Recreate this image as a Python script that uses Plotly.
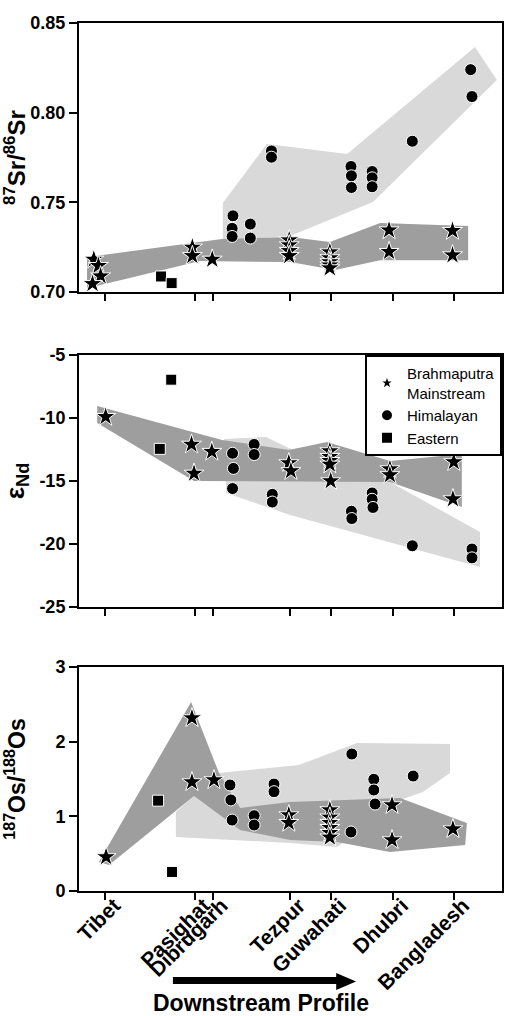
import plotly.graph_objects as go

# ---------------- data ----------------
site_labels = ["Tibet", "Pasighat", "Dibrugarh", "Tezpur", "Guwahati", "Dhubri", "Bangladesh"]
site_pos = [6.2, 27.4, 31.6, 49.9, 59.6, 74.3, 88.7]

# 87Sr/86Sr
sr_brahma_x = [3.5, 4.6, 5.1, 3.2, 26.8, 26.8, 31.5, 49.7, 49.7, 49.7, 49.7,
               59.3, 59.3, 59.3, 59.3, 59.3, 73.3, 73.3, 88.3, 88.3]
sr_brahma_y = [0.7182, 0.7147, 0.7089, 0.7046, 0.7249, 0.7202, 0.7182, 0.7290, 0.7262, 0.7230, 0.7202,
               0.7223, 0.7190, 0.7168, 0.7150, 0.7134, 0.7345, 0.7225, 0.7342, 0.7206]
sr_himal_x = [36.4, 36.2, 36.2, 40.5, 40.5, 45.5, 45.5, 64.3, 64.4, 64.4, 69.3, 69.3, 69.3, 78.8, 92.6, 92.9]
sr_himal_y = [0.7425, 0.7355, 0.7310, 0.7379, 0.7301, 0.7787, 0.7752, 0.7700, 0.7648, 0.7583,
              0.7672, 0.7637, 0.7587, 0.7841, 0.8240, 0.8090]
sr_east_x = [19.4, 21.9]
sr_east_y = [0.7087, 0.7050]
sr_dark_x = [1.9, 26.2, 33.8, 49.9, 59.3, 71.2, 92.0, 92.0, 71.2, 60.5, 49.9, 28.6, 1.9]
sr_dark_y = [0.7195, 0.7273, 0.7296, 0.7307, 0.7279, 0.7385, 0.7368, 0.7178, 0.7178, 0.7123, 0.7167, 0.7173, 0.7022]
sr_light_x = [34.0, 34.0, 44.4, 63.4, 93.6, 98.8, 69.5, 59.3, 49.9]
sr_light_y = [0.7290, 0.7496, 0.7825, 0.7770, 0.8366, 0.8182, 0.7502, 0.7402, 0.7312]

# epsilon Nd
nd_brahma_x = [6.3, 26.6, 27.2, 31.4, 49.6, 50.1, 59.3, 59.3, 59.3, 59.3, 59.5, 73.5, 73.5, 88.6, 88.4]
nd_brahma_y = [-9.9, -12.1, -14.4, -12.67, -13.57, -14.2, -12.62, -13.07, -13.39, -13.68, -15.0,
               -14.05, -14.52, -13.49, -16.43]
nd_himal_x = [36.3, 36.5, 36.3, 41.4, 41.4, 45.7, 45.7, 64.4, 64.5, 69.3, 69.3, 69.5, 78.8, 92.9, 92.9]
nd_himal_y = [-12.8, -14.0, -15.6, -12.1, -12.9, -16.06, -16.67, -17.4, -17.98, -15.95, -16.45, -17.1,
              -20.14, -20.4, -21.1]
nd_east_x = [19.1, 21.8]
nd_east_y = [-12.45, -6.96]
nd_dark_x = [4.3, 33.8, 49.6, 58.6, 73.5, 90.5, 90.5, 73.5, 27.2, 4.3]
nd_dark_y = [-9.05, -11.75, -12.54, -11.9, -13.41, -12.86, -17.06, -15.08, -15.0, -10.4]
nd_light_x = [34.3, 44.2, 49.6, 73.5, 94.8, 94.8, 49.9, 34.8]
nd_light_y = [-11.67, -11.51, -12.38, -15.08, -19.05, -21.83, -17.7, -15.95]

# 187Os/188Os
os_brahma_x = [6.4, 26.7, 26.7, 31.9, 49.6, 49.6, 59.3, 59.3, 59.3, 59.3, 59.3, 59.3, 74.0, 74.0, 88.4]
os_brahma_y = [0.456, 2.317, 1.46, 1.487, 1.018, 0.915, 1.085, 0.987, 0.915, 0.848, 0.781, 0.719,
               1.152, 0.683, 0.83]
os_himal_x = [35.7, 35.9, 36.2, 41.4, 41.4, 46.1, 46.1, 64.5, 64.3, 69.7, 69.7, 70.0, 79.0]
os_himal_y = [1.42, 1.22, 0.95, 1.009, 0.884, 1.433, 1.33, 1.835, 0.79, 1.496, 1.353, 1.165, 1.54]
os_east_x = [18.7, 22.0]
os_east_y = [1.21, 0.255]
os_dark_x = [4.7, 26.5, 33.1, 38.1, 49.9, 75.9, 91.7, 91.3, 73.5, 61.0, 49.9, 38.1, 27.2, 7.1]
os_dark_y = [0.389, 2.531, 1.58, 1.112, 1.192, 1.246, 0.911, 0.616, 0.522, 0.656, 0.683, 0.817, 1.272, 0.348]
os_light_x = [22.9, 27.2, 33.1, 52.0, 65.7, 87.7, 87.7, 81.3, 75.9, 61.0, 49.9, 22.9]
os_light_y = [1.058, 1.272, 1.58, 1.688, 1.982, 1.969, 1.58, 1.326, 1.219, 0.589, 0.643, 0.723]

# ---------------- styling ----------------
FONT = "Liberation Sans, Arial, sans-serif"
DARK = "#9e9e9e"
LIGHT = "#d9d9d9"

fig = go.Figure()

panels = [
    ("x", "y", sr_light_x, sr_light_y, sr_dark_x, sr_dark_y, sr_east_x, sr_east_y,
     sr_himal_x, sr_himal_y, sr_brahma_x, sr_brahma_y, False),
    ("x2", "y2", nd_light_x, nd_light_y, nd_dark_x, nd_dark_y, nd_east_x, nd_east_y,
     nd_himal_x, nd_himal_y, nd_brahma_x, nd_brahma_y, True),
    ("x3", "y3", os_light_x, os_light_y, os_dark_x, os_dark_y, os_east_x, os_east_y,
     os_himal_x, os_himal_y, os_brahma_x, os_brahma_y, False),
]

for (xa, ya, lx, ly, dx, dy, ex, ey, hx, hy, bx, by, leg) in panels:
    fig.add_trace(go.Scatter(x=lx, y=ly, xaxis=xa, yaxis=ya, mode="lines", fill="toself",
                             fillcolor=LIGHT, line=dict(width=0), showlegend=False, hoverinfo="skip"))
    fig.add_trace(go.Scatter(x=dx, y=dy, xaxis=xa, yaxis=ya, mode="lines", fill="toself",
                             fillcolor=DARK, line=dict(width=0), showlegend=False, hoverinfo="skip"))
    fig.add_trace(go.Scatter(x=ex, y=ey, xaxis=xa, yaxis=ya, mode="markers", name="Eastern",
                             legendrank=3, showlegend=leg,
                             marker=dict(symbol="square", size=11, color="black",
                                         line=dict(color="white", width=1))))
    fig.add_trace(go.Scatter(x=hx, y=hy, xaxis=xa, yaxis=ya, mode="markers", name="Himalayan",
                             legendrank=2, showlegend=leg,
                             marker=dict(symbol="circle", size=12, color="black",
                                         line=dict(color="white", width=1))))
    fig.add_trace(go.Scatter(x=bx, y=by, xaxis=xa, yaxis=ya, mode="markers",
                             name="Brahmaputra<br>Mainstream", legendrank=1, showlegend=leg,
                             marker=dict(symbol="star", size=15, color="black",
                                         line=dict(color="white", width=1))))

base_x = dict(range=[0, 100], tickmode="array", tickvals=site_pos, showgrid=False, zeroline=False,
              showline=True, mirror=True, linewidth=2, linecolor="black", automargin=False,
              ticks="outside", ticklen=7, tickwidth=2, tickcolor="black")
base_y = dict(showgrid=False, zeroline=False, showline=True, mirror=True, linewidth=2,
              linecolor="black", ticks="outside", ticklen=8, tickwidth=2, tickcolor="black",
              automargin=False,
              tickfont=dict(size=18, family=FONT, color="black", weight="bold"))

tick_in_x = dict(range=[0, 100], tickmode="array", tickvals=site_pos, showgrid=False,
                 zeroline=False, showline=False, ticks="inside", ticklen=6, tickwidth=2,
                 tickcolor="black", showticklabels=False, automargin=False)

dom = {"y": [0.690, 1.0], "y2": [0.3272, 0.6175], "y3": [0.0, 0.258]}
yr = {"y": [0.70, 0.85], "y2": [-25, -5], "y3": [0, 3]}
ytv = {"y": [0.70, 0.75, 0.80, 0.85], "y2": [-25, -20, -15, -10, -5], "y3": [0, 1, 2, 3]}
ytt = {"y": ["0.70", "0.75", "0.80", "0.85"], "y2": ["-25", "-20", "-15", "-10", "-5"],
       "y3": ["0", "1", "2", "3"]}
titles = {"y": ("<sup>87</sup>Sr/<sup>86</sup>Sr", 24, 1),
          "y2": ("ε<sub>Nd</sub>", 26, 8),
          "y3": ("<sup>187</sup>Os/<sup>188</sup>Os", 23, 24)}

layout_axes = {}
for i, ya in enumerate(["y", "y2", "y3"]):
    xa = "x" if i == 0 else "x%d" % (i + 1)
    xkey = "xaxis" if i == 0 else "xaxis%d" % (i + 1)
    ykey = "yaxis" if i == 0 else "yaxis%d" % (i + 1)
    xd = dict(base_x, domain=[0, 1], anchor=ya)
    if i == 2:
        xd.update(ticktext=site_labels, showticklabels=True, tickangle=-45,
                  ticklabelshift=9, ticklabelstandoff=-15,
                  tickfont=dict(size=21, family=FONT, color="black", weight="bold"))
    else:
        xd.update(showticklabels=False)
    layout_axes[xkey] = xd
    t, fs, so = titles[ya]
    yd = dict(base_y, domain=dom[ya], anchor=xa, range=yr[ya], tickmode="array",
              tickvals=ytv[ya], ticktext=ytt[ya],
              title=dict(text=t, font=dict(size=fs, family=FONT, color="black", weight="bold"),
                         standoff=so))
    layout_axes[ykey] = yd
    # overlay axes: inside halves of the crossing ticks
    layout_axes["xaxis%d" % (i + 4)] = dict(tick_in_x, overlaying=xa, anchor=ya)
    layout_axes["yaxis%d" % (i + 4)] = dict(range=yr[ya], tickmode="array", tickvals=ytv[ya],
                                            showgrid=False, zeroline=False, showline=False,
                                            ticks="inside", ticklen=7, tickwidth=2,
                                            tickcolor="black", showticklabels=False,
                                            automargin=False, overlaying=ya, anchor=xa)

fig.update_layout(
    width=507, height=1016,
    margin=dict(l=79, r=5, t=23, b=125, autoexpand=False),
    paper_bgcolor="white", plot_bgcolor="white",
    font=dict(family=FONT, color="black"),
    showlegend=True,
    legend=dict(x=1, xanchor="right", y=0.6175, yanchor="top", bgcolor="white",
                bordercolor="black", borderwidth=2, font=dict(size=15, family=FONT, color="black"),
                tracegroupgap=0, itemclick=False, itemsizing="constant"),
    **layout_axes,
)

# Downstream arrow and label
fig.add_shape(type="rect", xref="x3", yref="paper", x0=22.2, x1=61.5, y0=-0.1071, y1=-0.0991,
              fillcolor="black", line=dict(width=0))
fig.add_shape(type="path", xref="x3", yref="paper",
              path="M 60.8,-0.0945 L 65.5,-0.1043 L 60.8,-0.1141 Z",
              fillcolor="black", line=dict(width=0))
fig.add_annotation(text="Downstream Profile", xref="paper", yref="paper", x=0.4314, y=-0.1285,
                   showarrow=False, xanchor="center", yanchor="middle",
                   font=dict(size=23, family=FONT, color="black", weight="bold"))

# remove the default 8px page margin so the 507x1016 figure fills the window exactly
fig.write_html("out.html", config={"displayModeBar": False},
               post_script="document.body.style.margin='0';document.body.style.overflow='hidden';")
